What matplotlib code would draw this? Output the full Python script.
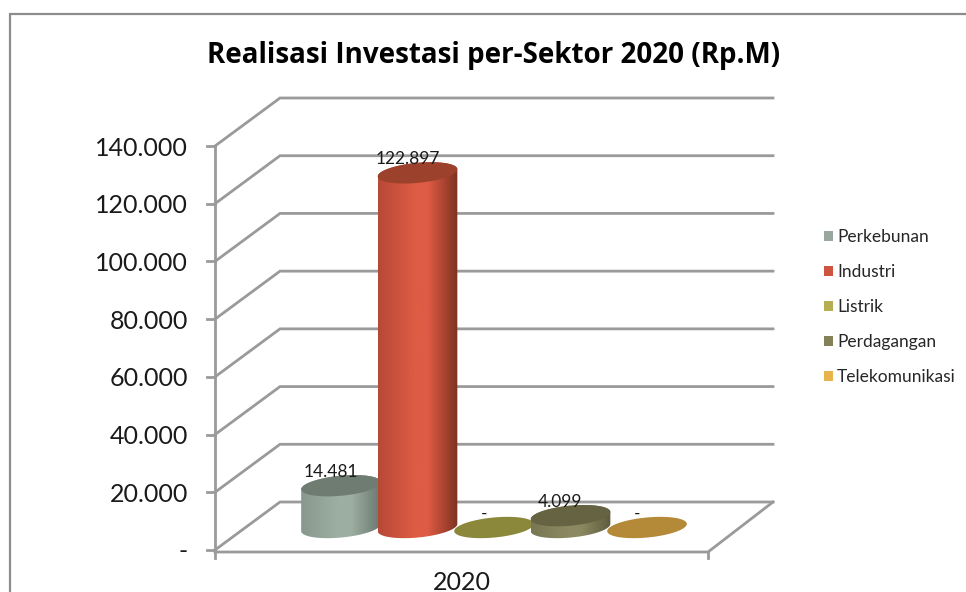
#!/usr/bin/env python3
# Realisasi investasi per sektor, fake 3D cylinders on a plain 2D axes

import matplotlib
matplotlib.use('Agg')
import matplotlib.pyplot as plt
from matplotlib.colors import LinearSegmentedColormap, to_rgb
from matplotlib.patches import Patch, Polygon
from matplotlib.lines import Line2D
import numpy as np

plt.rcParams.update({'font.family': ['Lato', 'DejaVu Sans']})

#%% data

year = '2020'
sectors = ['Perkebunan', 'Industri', 'Listrik', 'Perdagangan', 'Telekomunikasi']
values = [14481, 122897, 0, 4099, 0]
yticks = [0, 20000, 40000, 60000, 80000, 100000, 120000, 140000]

legend_colors = ['#98A89E', '#CF543F', '#B5AE53', '#848058', '#E8B54D']
side_colors = ['#9DAEA3', '#DE5B44', '#B5AE53', '#8C8962', '#E8B54D']
edge_colors = ['#69776D', '#7A3020', '#6E6B2E', '#5C5A3C', '#8A6A2A']
top_colors = ['#6F7C71', '#9C412B', '#8B873B', '#666343', '#B48A38']

def fmt(v):
    return '-' if v == 0 else f'{v:,.0f}'.replace(',', '.')

#%% figure and scales (1 category = 76.5 px, axes = front plane of the 3D box)

W, H = 966, 592
fig = plt.figure(figsize=(W/100, H/100), dpi=100)
ax = fig.add_axes([215/W, 1-550/H, 493/W, 404/H])
ax.set_xlim(-1.647, 4.797)
ax.set_ylim(0, 140000)
ax.axis('off')

sx = 76.5
sy = 404/140000
dx, dy = 65/sx, 48/sy   # depth of the box
grey = '#9A9A9A'

#%% box: gridlines, floor, ticks

for t in yticks:
    x0, x1 = ax.get_xlim()
    ax.plot([x0, x0+dx, x1+dx], [t, t+dy, t+dy], color=grey, lw=2, clip_on=False,
            solid_joinstyle='miter', zorder=1)
    ax.plot([x0-8/sx, x0], [t, t], color=grey, lw=2, clip_on=False, zorder=1)
    ax.text(x0-27/sx, t-2/sy, fmt(t), ha='right', va='center', fontsize=18, color='#1a1a1a')

x0, x1 = ax.get_xlim()
ax.plot([x0, x0], [0, 140000], color=grey, lw=2, clip_on=False, zorder=1)
ax.plot([x0, x1, x1+dx], [-2/sy, -2/sy, dy], color=grey, lw=2, clip_on=False, zorder=1)
for x in (x0, x1):
    ax.plot([x, x], [-8/sy, -2/sy], color=grey, lw=2, clip_on=False, zorder=1)

ax.text(1.58, -32/sy, year, ha='center', va='center', fontsize=18, color='#1a1a1a')

#%% cylinders

rx, ry, tilt = 40.0, 10.0, np.radians(5.5)
base = 22.5/sy   # the cylinders stand in the middle of the floor

def ring(i, v, a, b):
    # ellipse arc from angle a to b, in data coordinates
    tt = np.linspace(a, b, 80)
    px = rx*np.cos(tt)*np.cos(tilt) - ry*np.sin(tt)*np.sin(tilt)
    py = rx*np.cos(tt)*np.sin(tilt) + ry*np.sin(tt)*np.cos(tilt)
    return np.column_stack([i + px/sx, v + base + py/sy])

for i, v in enumerate(values):
    z = 3 + i
    if v > 0:
        lower = ring(i, 0, np.pi, 2*np.pi)
        upper = ring(i, v, 0, np.pi)
        body = Polygon(np.vstack([lower, upper]), closed=True, fc='none', ec='none',
                       transform=ax.transData)
        ax.add_patch(body)
        left = 0.4*np.array(to_rgb(edge_colors[i])) + 0.6*np.array(to_rgb(side_colors[i]))
        cm = LinearSegmentedColormap.from_list('c', [(0, left), (0.45, side_colors[i]),
                                                     (0.62, side_colors[i]), (1, edge_colors[i])])
        im = ax.imshow(np.linspace(0, 1, 128)[None, :], cmap=cm, aspect='auto', zorder=z,
                       extent=[i-rx/sx, i+rx/sx, base-2*ry/sy, v+base+2*ry/sy])
        im.set_clip_path(body)
    top = Polygon(ring(i, v, 0, 2*np.pi), closed=True, fc=top_colors[i], ec='none', zorder=z+0.5)
    ax.add_patch(top)
    ax.set_xlim(-1.647, 4.797)
    ax.set_ylim(0, 140000)

    ax.annotate(fmt(v), (i, v), xytext=(-10, 28), textcoords='offset pixels',
                ha='center', va='bottom', fontsize=12.5, color='#1a1a1a', zorder=20,
                annotation_clip=False)

#%% legend, title, outer frame

handles = [Patch(fc=c, ec='none') for c in legend_colors]
fig.legend(handles, sectors, loc='center left', bbox_to_anchor=(824/W, 1-307/H), frameon=False,
           fontsize=12.5, labelcolor='#262626', handlelength=0.52, handleheight=0.52,
           handletextpad=0.23, labelspacing=1.09, borderpad=0, borderaxespad=0)

fig.text(494/W, 1-56/H, 'Realisasi Investasi per-Sektor 2020 (Rp.M)', ha='center', va='center',
         fontsize=20, fontweight='bold', fontfamily=['Open Sans', 'DejaVu Sans'], color='black')

fig.add_artist(Line2D([10/W, 10/W, 1], [0, 1-14/H, 1-14/H], color='#8C8C8C', lw=1.6,
                      solid_joinstyle='miter'))

fig.savefig('out.png', dpi=100)
